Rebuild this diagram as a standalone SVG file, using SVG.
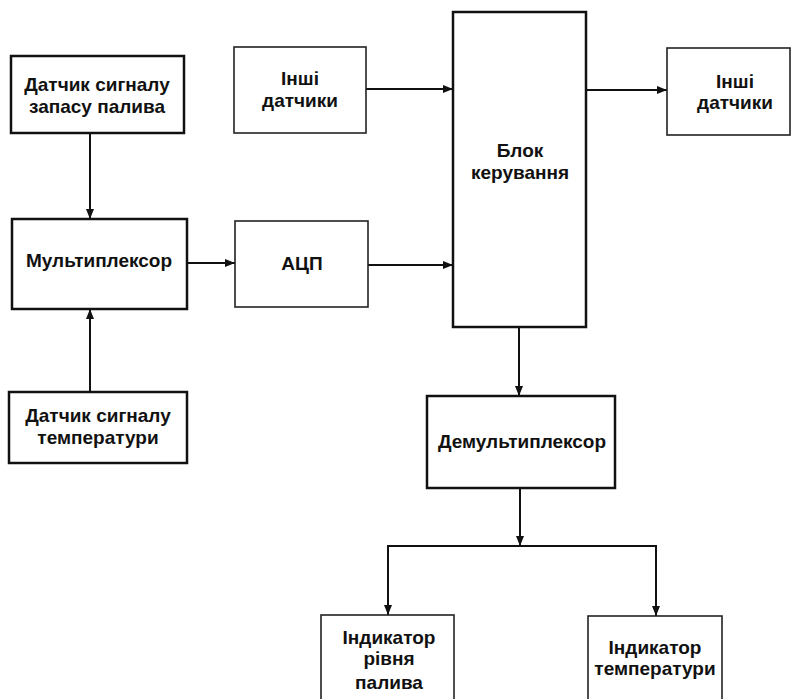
<svg xmlns="http://www.w3.org/2000/svg" width="793" height="699" viewBox="0 0 793 699">
  <style>
    .box { fill: #fff; stroke: #111; stroke-width: 2.5; }
    .thin { fill: #fff; stroke: #222; stroke-width: 1.6; }
    .lbl { font-family: "Liberation Sans", Arial, sans-serif; font-weight: bold; font-size: 19px; fill: #111; text-anchor: middle; }
    .wire { fill: none; stroke: #111; stroke-width: 2; }
  </style>
  <defs>
    <marker id="arr" viewBox="0 0 10 8" refX="10" refY="4" markerWidth="11" markerHeight="8" markerUnits="userSpaceOnUse" orient="auto">
      <path d="M0,0 L10,4 L0,8 Z" fill="#111"/>
    </marker>
  </defs>
  <rect width="793" height="699" fill="#fff"/>

  <g id="connectors">
    <line class="wire" x1="90" y1="133" x2="90" y2="219" marker-end="url(#arr)"/>
    <line class="wire" x1="90" y1="392" x2="90" y2="309" marker-end="url(#arr)"/>
    <line class="wire" x1="187" y1="263" x2="235" y2="263" marker-end="url(#arr)"/>
    <line class="wire" x1="368" y1="265" x2="453" y2="265" marker-end="url(#arr)"/>
    <line class="wire" x1="366" y1="89" x2="453" y2="89" marker-end="url(#arr)"/>
    <line class="wire" x1="586" y1="90" x2="667" y2="90" marker-end="url(#arr)"/>
    <line class="wire" x1="519" y1="327" x2="519" y2="396" marker-end="url(#arr)"/>
    <line class="wire" x1="520" y1="488" x2="520" y2="546" marker-end="url(#arr)"/>
    <path class="wire" d="M388,615 V546 H656 V615"/>
    <line class="wire" x1="388" y1="600" x2="388" y2="615" marker-end="url(#arr)"/>
    <line class="wire" x1="656" y1="600" x2="656" y2="616" marker-end="url(#arr)"/>
  </g>

  <g id="fuel-sensor">
    <rect class="box" x="11" y="56" width="173" height="77"/>
    <text class="lbl" x="97" y="91">Датчик сигналу</text>
    <text class="lbl" x="97" y="113">запасу палива</text>
  </g>

  <g id="multiplexer">
    <rect class="box" x="12" y="219" width="175" height="90"/>
    <text class="lbl" x="99" y="267">Мультиплексор</text>
  </g>

  <g id="temp-sensor">
    <rect class="box" x="9" y="392" width="178" height="71"/>
    <text class="lbl" x="98" y="422">Датчик сигналу</text>
    <text class="lbl" x="98" y="444">температури</text>
  </g>

  <g id="other-sensors-in">
    <rect class="thin" x="234" y="47" width="132" height="86"/>
    <text class="lbl" x="300" y="85">Інші</text>
    <text class="lbl" x="300" y="107">датчики</text>
  </g>

  <g id="adc">
    <rect class="thin" x="235" y="221" width="133" height="86"/>
    <text class="lbl" x="302" y="270">АЦП</text>
  </g>

  <g id="control-unit">
    <rect class="box" x="453" y="12" width="133" height="315"/>
    <text class="lbl" x="520" y="157">Блок</text>
    <text class="lbl" x="520" y="179">керування</text>
  </g>

  <g id="other-sensors-out">
    <rect class="thin" x="667" y="48" width="123" height="87"/>
    <text class="lbl" x="735" y="88">Інші</text>
    <text class="lbl" x="735" y="109">датчики</text>
  </g>

  <g id="demultiplexer">
    <rect class="box" x="427" y="396" width="188" height="92"/>
    <text class="lbl" x="522" y="448">Демультиплексор</text>
  </g>

  <g id="fuel-indicator">
    <rect class="thin" x="321" y="615" width="133" height="100"/>
    <text class="lbl" x="389" y="644">Індикатор</text>
    <text class="lbl" x="389" y="665">рівня</text>
    <text class="lbl" x="389" y="689">палива</text>
  </g>

  <g id="temp-indicator">
    <rect class="thin" x="588" y="616" width="134" height="100"/>
    <text class="lbl" x="655" y="654">Індикатор</text>
    <text class="lbl" x="655" y="675">температури</text>
  </g>
</svg>
